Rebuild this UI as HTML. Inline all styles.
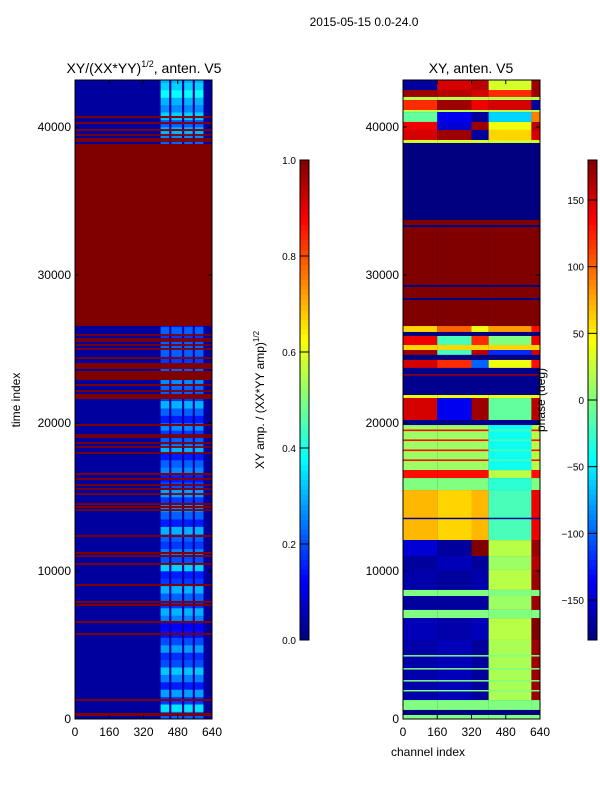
<!DOCTYPE html>
<html><head><meta charset="utf-8"><style>
html,body{margin:0;padding:0;background:#fff;}
svg{display:block;font-family:"Liberation Sans","DejaVu Sans",sans-serif;}
</style></head><body>
<svg id="fig" width="600" height="800" viewBox="0 0 600 800" xmlns="http://www.w3.org/2000/svg">
<rect width="600" height="800" fill="#fff"/>
<text x="364" y="26" font-size="12" text-anchor="middle">2015-05-15 0.0-24.0</text>
<text x="144" y="73" font-size="14" text-anchor="middle">XY/(XX*YY)<tspan font-size="9" dy="-6">1/2</tspan><tspan dy="6">, anten. V5</tspan></text>
<text x="471" y="73" font-size="14" text-anchor="middle">XY, anten. V5</text>
<g id="left"></g>
<g id="right"></g>
<g id="axes"></g>
<text transform="translate(20,400) rotate(-90)" font-size="12" text-anchor="middle">time index</text>
<text x="428" y="756" font-size="12" text-anchor="middle">channel index</text>
<text transform="translate(264,400) rotate(-90)" font-size="12" text-anchor="middle">XY amp. / (XX*YY amp)<tspan font-size="8" dy="-5">1/2</tspan></text>
<text transform="translate(545,400) rotate(-90)" font-size="12" text-anchor="middle">phase (deg)</text>
<g id="cbars"></g>
</svg>
<script>
// ---- data ----
const channelTicks = [0,160,320,480,640];
const timeTicks = [0,10000,20000,30000,40000];
const ampTicks = [0.0,0.2,0.4,0.6,0.8,1.0];
const phaseTicks = [-150,-100,-50,0,50,100,150];
// left panel: noisy channel columns, base amplitude, amplitude per 500-time block
const leftNoiseCols = [[400,440],[450,500],[510,550],[560,600]];
const leftBase = 0.03;
const leftNoise = [0.22,0.35,0.18,0.28,0.15,0.25,0.32,0.2,0.17,0.28,0.2,0.14,0.12,0.25,0.3,0.18,0.22,0.3,0.18,0.15,
0.33,0.2,0.25,0.18,0.22,0.3,0.15,0.22,0.26,0.18,0.28,0.2,0.15,0.26,0.22,0.15,0.3,0.22,0.18,0.26,
0.15,0.22,0.3,0.18,0.22,0.26,0.15,0.22,0.18,0.22,0.22,0.18,0.22,0.15,0.22,0.18,0.22,0.22,0.22,0.22,
0.22,0.22,0.22,0.22,0.22,0.22,0.22,0.22,0.22,0.22,0.22,0.22,0.22,0.22,0.22,0.22,0.22,0.22,0.26,0.3,
0.22,0.33,0.26,0.3,0.38,0.33,0.3];
// left panel saturated rows [tStart,tEnd]
const leftRed = [[40600,40740],[40200,40330],[39730,39860],[39400,39520],[39120,39250],[38990,39110],[26554,38851],
[25890,26010],[25620,25740],[25480,25600],[25210,25330],[24940,25060],[24330,24450],[23649,24054],[22905,23514],
[22500,22630],[22100,22220],[21622,21960],[19800,19930],[19130,19250],[18990,19110],[18590,18710],[18320,18440],
[17910,18030],[16486,16622],[16150,16280],[15750,15870],[15480,15600],[15140,15260],[14460,14590],[14260,14390],
[14060,14180],[12300,12430],[11150,11280],[10950,11080],[10410,10540],[8990,9120],[7840,7970],[7640,7770],
[6490,6620],[5680,5810],[1220,1350],[203,405]];
// right panel: channel segments and phase bands [tStart,tEnd, v per segment]
const rightSegs = [0,160,320,400,600,640];
const rightBands = [
[42500,43200,-170,150,160,30,170],[42030,42500,170,160,150,120,170],[41820,42030,20,20,20,20,20],
[41150,41820,120,170,140,150,-170],[41010,41150,20,20,20,20,20],[40340,41010,-10,-140,-170,-60,90],
[39800,40340,140,-150,170,40,160],[39120,39800,150,170,-170,60,150],[38920,39120,30,30,30,30,30],
[33720,38920,-180,-180,-180,-180,-180],[26550,33720,180,180,180,180,180],
[33230,33380,-180,-180,-180,-180,-180],[29190,29330,-180,-180,-180,-180,-180],[28310,28450,-180,-180,-180,-180,-180],
[26150,26550,60,100,40,80,130],[25880,26150,-180,-180,-180,-180,-180],[25270,25880,140,-20,120,0,140],
[24930,25270,60,60,60,60,60],[24600,24930,170,-20,160,-120,150],[24260,24600,-180,-180,-180,-180,-180],
[23720,24260,150,120,-100,40,130],[21890,23720,-175,-175,-175,-175,-175],[23200,23300,170,170,170,170,170],
[21690,21890,40,40,40,40,40],[20200,21690,150,-140,170,-10,160],[19860,20200,-175,-175,-175,-175,-175],
[16820,19860,10,10,10,-40,20],[19450,19560,130,130,130,-20,130],[18780,18890,130,130,130,-20,130],
[18100,18210,130,130,130,-20,130],[17430,17540,130,130,130,-20,130],[16280,16820,130,130,130,20,130],
[15470,16280,0,0,0,-30,0],[12090,15470,70,60,70,-20,140],[13500,13600,-170,-170,-170,-170,-170],
[11010,12090,-150,-170,180,20,170],[10070,11010,-170,-160,-170,10,160],[8720,10070,-165,-170,-165,20,170],
[8310,8720,0,0,0,0,0],[7370,8310,-170,-170,-170,10,170],[6820,7370,0,0,0,0,0],
[5340,6820,-160,-165,-160,20,180],[1280,5340,-165,-160,-170,15,170],[4220,4320,0,0,0,0,0],
[3340,3440,0,0,0,0,0],[2530,2630,0,0,0,0,0],[1860,1960,0,0,0,0,0],
[610,1280,0,0,0,0,0],[270,610,-180,-180,-180,-180,-180],[0,270,0,0,0,0,0]];

// ---- layout ----
const NS="http://www.w3.org/2000/svg";
const L={x0:75,x1:212}, R={x0:403,x1:540}, Y0=719, Y1=80, TMAX=(719-80)/148*10000;
function yT(t){return Y0 - t/10000*148;}
function xC(p,c){return p.x0 + c/640*(p.x1-p.x0);}
function jet(v){v=Math.max(0,Math.min(1,v));
 const f=x=>Math.max(0,Math.min(1,x));
 const r=f(1.5-Math.abs(4*v-3)), g=f(1.5-Math.abs(4*v-2)), b=f(1.5-Math.abs(4*v-1));
 return `rgb(${Math.round(r*255)},${Math.round(g*255)},${Math.round(b*255)})`;}
function rect(g,x,y,w,h,fill,name){const r=document.createElementNS(NS,'rect');
 r.setAttribute('x',x);r.setAttribute('y',y);r.setAttribute('width',w);r.setAttribute('height',h);r.setAttribute('fill',fill);
 
 
 g.appendChild(r);return r;}
function text(g,x,y,s,anchor,name,size){const t=document.createElementNS(NS,'text');
 t.setAttribute('x',x);t.setAttribute('y',y);t.setAttribute('font-size',size||11);t.setAttribute('text-anchor',anchor);t.textContent=s;
 
 
 g.appendChild(t);}
function line(g,x1,y1,x2,y2,name){const l=document.createElementNS(NS,'line');
 l.setAttribute('x1',x1);l.setAttribute('y1',y1);l.setAttribute('x2',x2);l.setAttribute('y2',y2);l.setAttribute('stroke','#000');l.setAttribute('stroke-width',1);
 
 
 g.appendChild(l);}

// left heatmap
const gl=document.getElementById('left');
rect(gl,L.x0,yT(TMAX),L.x1-L.x0,Y0-yT(TMAX),jet(leftBase),'left-background');
leftNoise.forEach((v,i)=>{const t0=i*500,t1=Math.min(TMAX,(i+1)*500);
 leftNoiseCols.forEach(c=>{rect(gl,xC(L,c[0]),yT(t1),xC(L,c[1])-xC(L,c[0]),yT(t0)-yT(t1)+0.3,jet(v),'left-cell');});});
leftRed.forEach(b=>{rect(gl,L.x0,yT(b[1]),L.x1-L.x0,Math.max(1,yT(b[0])-yT(b[1])),jet(1),'left-saturated-row');});

// right heatmap
const gr=document.getElementById('right');
rect(gr,R.x0,yT(TMAX),R.x1-R.x0,Y0-yT(TMAX),jet(0),'right-background');
rightBands.forEach(b=>{for(let s=0;s<rightSegs.length-1;s++){const v=b[2+s];
 rect(gr,xC(R,rightSegs[s]),yT(b[1]),xC(R,rightSegs[s+1])-xC(R,rightSegs[s]),Math.max(1,yT(b[0])-yT(b[1])),jet((v+180)/360),'right-cell');}});

// axes
const ga=document.getElementById('axes');
[L,R].forEach((p,k)=>{
 const fr=document.createElementNS(NS,'rect');
 fr.setAttribute('x',p.x0);fr.setAttribute('y',Y1);fr.setAttribute('width',p.x1-p.x0);fr.setAttribute('height',Y0-Y1);
 fr.setAttribute('fill','none');fr.setAttribute('stroke','#000');fr.setAttribute('stroke-width',1);
 
 
 ga.appendChild(fr);
 channelTicks.forEach(c=>{const x=xC(p,c);line(ga,x,Y0,x,Y0-4,'x-tick');line(ga,x,Y1,x,Y1+4,'x-tick');text(ga,x,736,String(c),'middle','x-tick-label',12);});
 timeTicks.forEach(t=>{const y=yT(t);line(ga,p.x0,y,p.x0+4,y,'y-tick');line(ga,p.x1,y,p.x1-4,y,'y-tick');text(ga,p.x0-4,y+4,String(t),'end','y-tick-label',12);});
});

// colorbars
const gc=document.getElementById('cbars');
const CB={top:160,bot:640};
function cbar(x,w,vmin,vmax,ticks,name,fmt){
 for(let i=0;i<96;i++){const y=CB.top+i*(CB.bot-CB.top)/96;const v=1-(i+0.5)/96;rect(gc,x,y,w,(CB.bot-CB.top)/96+0.5,jet(v),name+'-swatch');}
 const fr=document.createElementNS(NS,'rect');
 fr.setAttribute('x',x);fr.setAttribute('y',CB.top);fr.setAttribute('width',w);fr.setAttribute('height',CB.bot-CB.top);
 fr.setAttribute('fill','none');fr.setAttribute('stroke','#000');
 
 
 gc.appendChild(fr);
 ticks.forEach(t=>{const y=CB.bot-(t-vmin)/(vmax-vmin)*(CB.bot-CB.top);line(gc,x,y,x+w,y,name+'-tick');text(gc,x-4,y+4,fmt(t),'end',name+'-tick-label',10);});
}
cbar(300,9,0,1,ampTicks,'amp-colorbar',t=>t.toFixed(1));
cbar(588,9,-180,180,phaseTicks,'phase-colorbar',t=>t<0?'\u2212'+(-t):String(t));
</script>
</body></html>
